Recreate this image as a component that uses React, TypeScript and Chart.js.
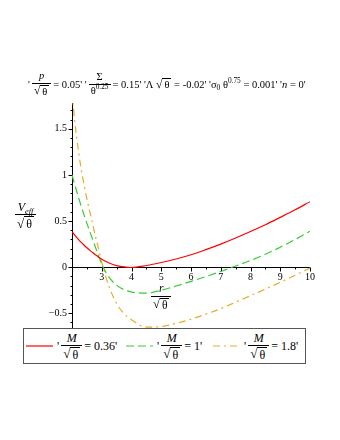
import React, { useEffect, useRef } from 'react';
import { Chart, registerables } from 'chart.js';

Chart.register(...registerables);

// ---- data ----
const rOverSqrtTheta = [2, 2.1, 2.2, 2.3, 2.4, 2.5, 2.6, 2.7, 2.8, 2.9, 3, 3.25, 3.5, 3.75, 4, 4.5, 5, 5.5, 6, 6.5, 7, 7.5, 8, 8.5, 9, 9.5, 10];
const vM036 = [0.385, 0.345, 0.307, 0.272, 0.24, 0.21, 0.182, 0.156, 0.132, 0.108, 0.086, 0.045, 0.017, 0.002, -0.004, 0.018, 0.05, 0.088, 0.134, 0.19, 0.25, 0.316, 0.386, 0.46, 0.54, 0.622, 0.71];
const vM1 = [1.0, 0.885, 0.775, 0.67, 0.57, 0.475, 0.385, 0.295, 0.205, 0.117, 0.03, -0.11, -0.195, -0.245, -0.27, -0.282, -0.25, -0.205, -0.155, -0.102, -0.047, 0.012, 0.072, 0.14, 0.216, 0.3, 0.39];
const vM18 = [1.9, 1.56, 1.3, 1.08, 0.9, 0.74, 0.6, 0.46, 0.32, 0.19, 0.05, -0.215, -0.395, -0.505, -0.57, -0.65, -0.645, -0.61, -0.565, -0.51, -0.45, -0.38, -0.31, -0.238, -0.164, -0.088, -0.01];
const massLabels = ['0.36', '1', '1.8'];
const xTickValues = [3, 4, 5, 6, 7, 8, 9, 10];
const yTickValues = [-0.5, 0, 0.5, 1, 1.5];
const paramValues = { p: '0.05', sigma: '0.15', lambda: '-0.02', sigma0: '0.001', n: '0' };

const SERIF = '"Liberation Serif", "DejaVu Serif", "Times New Roman", serif';
const COLORS = ['#ff0000', '#33cc33', '#e6ac27'];
const DASHES: number[][] = [[], [8, 4], [7, 4, 2, 4]];

const axesPlugin = {
  id: 'mapleAxes',
  beforeDatasetsDraw(chart: any) {
    const { ctx, chartArea, scales } = chart;
    const xs = scales.x;
    const ys = scales.y;
    const y0 = Math.round(ys.getPixelForValue(0)) + 0.5;
    const xl = Math.round(chartArea.left) + 0.5;
    ctx.save();
    ctx.strokeStyle = '#000';
    ctx.lineWidth = 1;
    ctx.beginPath();
    ctx.moveTo(chartArea.left, y0);
    ctx.lineTo(chartArea.right, y0);
    ctx.moveTo(xl, chartArea.top);
    ctx.lineTo(xl, chartArea.bottom);
    for (let k = -6; k <= 17; k++) {
      const py = Math.round(ys.getPixelForValue(k / 10)) + 0.5;
      const len = k % 5 === 0 ? 4 : 2;
      ctx.moveTo(xl - len, py);
      ctx.lineTo(xl, py);
    }
    for (let k = 4; k <= 20; k++) {
      const px = Math.round(xs.getPixelForValue(k / 2)) + 0.5;
      const len = k % 2 === 0 ? 4 : 2;
      ctx.moveTo(px, y0);
      ctx.lineTo(px, y0 + len);
    }
    ctx.stroke();
    ctx.restore();
  },
};

const Sqrt = ({ children }: { children: React.ReactNode }) => (
  <span style={{ display: 'inline-flex', alignItems: 'flex-end', lineHeight: 1 }}>
    <span style={{ lineHeight: 1, fontSize: '1.1em' }}>√</span>
    <span style={{ borderTop: '1px solid #000', lineHeight: 1, paddingTop: 1, paddingLeft: 2, paddingRight: 2 }}>{children}</span>
  </span>
);

const Frac = ({ num, den, style }: { num: React.ReactNode; den: React.ReactNode; style?: React.CSSProperties }) => (
  <span style={{ display: 'inline-flex', flexDirection: 'column', alignItems: 'center', margin: '0 2px', ...style }}>
    <span style={{ lineHeight: 1, padding: '0 2px 1px' }}>{num}</span>
    <span style={{ borderTop: '1px solid #000', lineHeight: 1, padding: '1px 2px 0', alignSelf: 'stretch', textAlign: 'center' }}>{den}</span>
  </span>
);

const Sup = ({ children }: { children: React.ReactNode }) => (
  <span style={{ fontSize: '0.7em', position: 'relative', top: '-0.55em' }}>{children}</span>
);
const Sub = ({ children }: { children: React.ReactNode }) => (
  <span style={{ fontSize: '0.7em', position: 'relative', top: '0.35em' }}>{children}</span>
);

const LegendLine = ({ color, dash }: { color: string; dash: number[] }) => (
  <svg width={27} height={6} style={{ display: 'block', marginRight: 4 }}>
    <line x1={0} y1={3} x2={27} y2={3} stroke={color} strokeWidth={1.2} strokeDasharray={dash.length ? dash.join(',') : undefined} />
  </svg>
);

export default function App() {
  const canvasRef = useRef<HTMLCanvasElement | null>(null);

  useEffect(() => {
    const canvas = canvasRef.current;
    if (!canvas) return;
    const series = [vM036, vM1, vM18];
    const chart = new Chart(canvas, {
      type: 'line',
      data: {
        datasets: series.map((vals, i) => ({
          label: 'M/√θ = ' + massLabels[i],
          data: rOverSqrtTheta.map((x, j) => ({ x, y: vals[j] })),
          borderColor: COLORS[i],
          borderWidth: 1.2,
          borderDash: DASHES[i],
          pointRadius: 0,
          cubicInterpolationMode: 'monotone' as const,
          fill: false,
        })),
      },
      options: {
        animation: false,
        responsive: false,
        layout: { padding: { left: 32, right: 30, top: 103, bottom: 112 } },
        plugins: {
          legend: { display: false },
          title: { display: false },
          tooltip: { enabled: false },
        },
        scales: {
          x: {
            type: 'linear',
            min: 2,
            max: 10,
            position: { y: 0 } as any,
            grid: { display: false, drawTicks: false },
            border: { display: false },
            ticks: {
              autoSkip: false,
              maxRotation: 0,
              padding: 4,
              color: '#000',
              font: { family: SERIF, size: 10 },
              callback: (v: any) => String(v),
            },
            afterBuildTicks: (s: any) => {
              s.ticks = xTickValues.map((v) => ({ value: v }));
            },
            afterFit: (s: any) => {
              s.height = 0;
              s.paddingLeft = 0;
              s.paddingRight = 0;
            },
          },
          y: {
            type: 'linear',
            min: -0.66,
            max: 1.78,
            position: 'left',
            grid: { display: false, drawTicks: false },
            border: { display: false },
            ticks: {
              autoSkip: false,
              padding: 5,
              color: '#000',
              font: { family: SERIF, size: 10 },
              callback: (v: any) => (v < 0 ? '−' + String(Math.abs(v)) : String(v)),
            },
            afterBuildTicks: (s: any) => {
              s.ticks = yTickValues.map((v) => ({ value: v }));
            },
            afterFit: (s: any) => {
              s.width = 40;
            },
          },
        },
      },
      plugins: [axesPlugin],
    });
    return () => chart.destroy();
  }, []);

  const base: React.CSSProperties = { position: 'absolute', fontFamily: SERIF, color: '#000', whiteSpace: 'nowrap' };

  return (
    <div style={{ position: 'absolute', left: 0, top: 0, width: 340, height: 440, background: '#fff', overflow: 'hidden' }}>
      <canvas ref={canvasRef} width={340} height={440} style={{ position: 'absolute', left: 0, top: 0 }} />

      {/* title */}
      <div style={{ ...base, left: 28, top: 71, fontSize: 10.5, display: 'flex', alignItems: 'center' }}>
        <span>'</span>
        <Frac num={<i>p</i>} den={<Sqrt>θ</Sqrt>} />
        <span>= {paramValues.p}'&nbsp;'</span>
        <Frac num="Σ" den={<span>θ<Sup>0.25</Sup></span>} />
        <span>= {paramValues.sigma}' 'Λ&nbsp;</span>
        <Sqrt>θ</Sqrt>
        <span>&nbsp;= {paramValues.lambda}' 'σ<Sub>0</Sub>&nbsp;θ<Sup>0.75</Sup>&nbsp;= {paramValues.sigma0}' '<i>n</i> = {paramValues.n}'</span>
      </div>

      {/* y axis label */}
      <div style={{ ...base, left: 13, top: 201, fontSize: 12, display: 'flex' }}>
        <Frac num={<span><i>V</i><Sub><i>eff</i></Sub></span>} den={<Sqrt>θ</Sqrt>} />
      </div>

      {/* x axis label */}
      <div style={{ ...base, left: 149, top: 283, fontSize: 11.5, display: 'flex' }}>
        <Frac num={<i>r</i>} den={<Sqrt>θ</Sqrt>} />
      </div>

      {/* legend */}
      <div style={{ position: 'absolute', left: 23, top: 328, width: 281, height: 34, border: '1.5px solid #555', background: '#fff' }}>
        {massLabels.map((m, i) => (
          <div key={m} style={{ ...base, left: [2, 102, 189][i], top: 0, height: 34, display: 'flex', alignItems: 'center', fontSize: 12 }}>
            <LegendLine color={COLORS[i]} dash={DASHES[i]} />
            <span>'</span>
            <Frac num={<i>M</i>} den={<Sqrt>θ</Sqrt>} />
            <span>= {m}'</span>
          </div>
        ))}
      </div>
    </div>
  );
}
